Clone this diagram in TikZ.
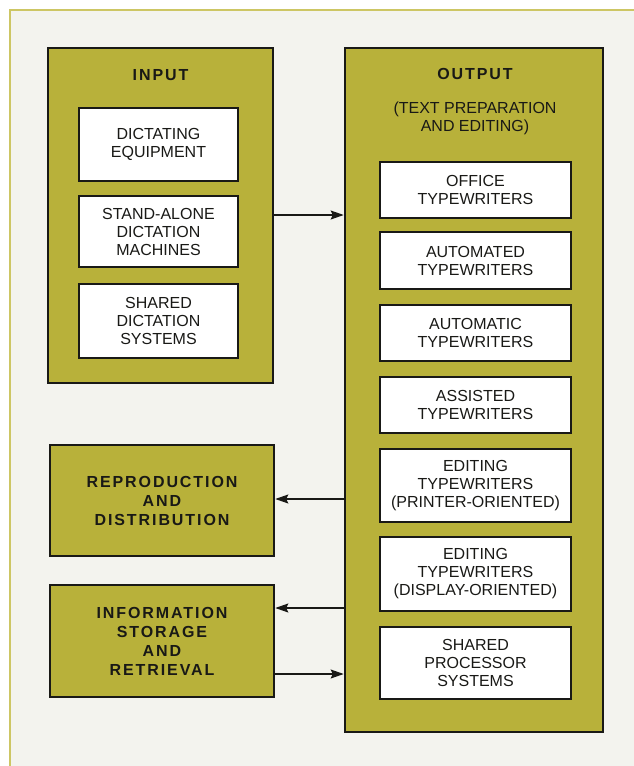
\documentclass[tikz,border=0pt]{standalone}
\usepackage{fontspec}
\setmainfont{Liberation Sans}
\newfontfamily\spacedbold[LetterSpace=12]{Liberation Sans Bold}
\usetikzlibrary{arrows.meta}
\definecolor{olive}{RGB}{184,177,58}
\definecolor{framecol}{RGB}{205,198,100}
\definecolor{bgcol}{RGB}{243,243,238}
\definecolor{ink}{RGB}{25,25,22}
\begin{document}
\begin{tikzpicture}[x=1pt,y=-1pt,
  bigbox/.style={draw=ink,line width=2.6pt,fill=olive,inner sep=0pt},
  subbox/.style={draw=ink,line width=1.3pt,fill=white,inner sep=0pt,
     minimum width=159pt,align=center,text=ink,font=\fontsize{16}{18}\selectfont},
  outsub/.style={subbox,minimum width=191pt},
  title/.style={text=ink,font=\fontsize{16}{19}\selectfont\spacedbold,align=center,inner sep=0pt},
  conn/.style={draw=ink,line width=1.2pt},
  tip/.style={-{Stealth[length=13pt,width=9pt,inset=2pt]}}
]
\useasboundingbox (0,0) rectangle (634,766);
\fill[white] (0,0) rectangle (634,766);
\fill[bgcol] (10,10) rectangle (634,766);
\draw[framecol,line width=2pt] (10,766) coordinate (fbl) -- (10,10) coordinate (ftl) -- (634,10) coordinate (ftr);

% input
\node[bigbox,minimum width=225pt,minimum height=335pt] (inp) at (160.5,215.5) {};
\node[title] (inpt) at (160.5,75) {INPUT};
\node[subbox,minimum height=73pt] (i1) at (158.5,144.5) {DICTATING\\EQUIPMENT};
\node[subbox,minimum height=71pt] (i2) at (158.5,231.5) {STAND-ALONE\\DICTATION\\MACHINES};
\node[subbox,minimum height=74pt] (i3) at (158.5,321) {SHARED\\DICTATION\\SYSTEMS};

% output
\node[bigbox,minimum width=258pt,minimum height=684pt] (out) at (474,390) {};
\node[title] (outt) at (475,74) {OUTPUT};
\node[text=ink,font=\fontsize{16}{18}\selectfont,align=center,inner sep=0pt] (outs) at (475,118) {(TEXT PREPARATION\\AND EDITING)};
\node[outsub,minimum height=56pt] (o1) at (475.5,190) {OFFICE\\TYPEWRITERS};
\node[outsub,minimum height=57pt] (o2) at (475.5,260.5) {AUTOMATED\\TYPEWRITERS};
\node[outsub,minimum height=56pt] (o3) at (475.5,333) {AUTOMATIC\\TYPEWRITERS};
\node[outsub,minimum height=56pt] (o4) at (475.5,405) {ASSISTED\\TYPEWRITERS};
\node[outsub,minimum height=73pt] (o5) at (475.5,485.5) {EDITING\\TYPEWRITERS\\(PRINTER-ORIENTED)};
\node[outsub,minimum height=74pt] (o6) at (475.5,574) {EDITING\\TYPEWRITERS\\(DISPLAY-ORIENTED)};
\node[outsub,minimum height=72pt] (o7) at (475.5,663) {SHARED\\PROCESSOR\\SYSTEMS};

% left lower boxes
\node[bigbox,minimum width=224pt,minimum height=111pt,text=ink,align=center,
  font=\fontsize{16}{19}\selectfont\spacedbold] (rep) at (162,500.5) {REPRODUCTION\\AND\\DISTRIBUTION};
\node[bigbox,minimum width=224pt,minimum height=112pt,text=ink,align=center,
  font=\fontsize{16}{19}\selectfont\spacedbold] (info) at (162,641) {INFORMATION\\STORAGE\\AND\\RETRIEVAL};

% connectors
\draw[conn,tip] (inp.east |- 0,215) -- (out.west |- 0,215);
\draw[conn,tip] (out.west |- 0,499) -- (rep.east |- 0,499);
\draw[conn,tip] (out.west |- 0,608) -- (info.east |- 0,608);
\draw[conn,tip] (info.east |- 0,674) -- (out.west |- 0,674);
\end{tikzpicture}
\end{document}
